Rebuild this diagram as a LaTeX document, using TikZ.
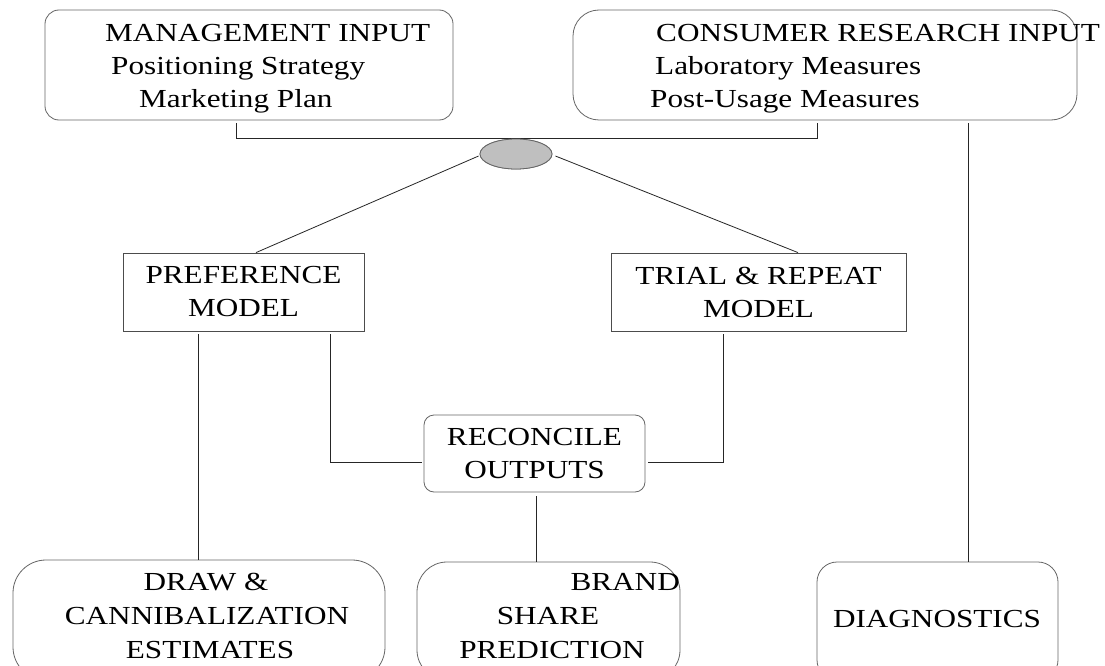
\documentclass[tikz,border=0pt]{standalone}
\usepackage{fontspec}
\setmainfont{Liberation Serif}[FakeStretch=1.2]
\usetikzlibrary{shapes.geometric,calc}
\tikzset{
  conn/.style={draw=black!85, line width=0.8pt},
  rbox/.style={draw=black!60, line width=0.8pt, rounded corners=#1, inner sep=0pt},
  sbox/.style={draw=black!70, line width=0.8pt, inner sep=0pt, align=center, font=\fontsize{26}{33}\selectfont},
  txt/.style={inner sep=0pt, font=\fontsize{26}{33}\selectfont},
}
\begin{document}
\begin{tikzpicture}[x=1pt,y=-1pt]
\useasboundingbox (0,0) rectangle (1105,666);
\clip (0,0) rectangle (1105,666);
\fill[white] (0,0) rectangle (1105,666);
% boxes
\node[rbox=14, minimum width=408, minimum height=110] (mgmt) at (249,65) {};
\node[rbox=26, minimum width=504, minimum height=110] (cons) at (825,65) {};
\node[draw=black!60, fill=black!25, line width=0.8pt, ellipse, inner sep=0pt, minimum width=72, minimum height=30] (ell) at (516,154) {};
\node[sbox, minimum width=241, minimum height=78] (pref) at (243.5,292) {PREFERENCE\\MODEL};
\node[sbox, minimum width=295, minimum height=78] (trial) at (758.5,292) {TRIAL \& REPEAT\\MODEL};
\node[rbox=10, minimum width=221, minimum height=77, align=center, font=\fontsize{26}{33}\selectfont] (reco) at (534.5,453.5) {RECONCILE\\OUTPUTS};
\node[rbox=33, minimum width=372, minimum height=120] (drawb) at (199,620) {};
\node[rbox=30, minimum width=263, minimum height=118] (brand) at (548.5,621) {};
\node[rbox=20, minimum width=241, minimum height=118] (diag) at (937.5,621) {};
% texts
\node[txt, anchor=base west] (m1) at (105,42) {MANAGEMENT INPUT};
\node[txt, anchor=base west] (m2) at (111,75) {Positioning Strategy};
\node[txt, anchor=base west] (m3) at (139,108) {Marketing Plan};
\node[txt, anchor=base west] (c1) at (656,42) {CONSUMER RESEARCH INPUT};
\node[txt, anchor=base west] (c2) at (655,75) {Laboratory Measures};
\node[txt, anchor=base west] (c3) at (650,108) {Post-Usage Measures};
\node[txt, anchor=base] (d1) at (206,590) {DRAW \&};
\node[txt, anchor=base] (d2) at (207,624) {CANNIBALIZATION};
\node[txt, anchor=base] (d3) at (210,658) {ESTIMATES};
\node[txt, anchor=base east] (b1) at (680,590) {BRAND};
\node[txt, anchor=base] (b2) at (548,624) {SHARE};
\node[txt, anchor=base] (b3) at (552,658) {PREDICTION};
\node[txt, anchor=base] (g1) at (937,627) {DIAGNOSTICS};
% connectors
\draw[conn] ($(mgmt.south)+(-13,3)$) |- (ell.north) -| ($(cons.south)+(-8,3)$);
\node[draw=black!60, fill=black!25, line width=0.8pt, ellipse, inner sep=0pt, minimum width=72, minimum height=30] at (ell) {};
\draw[conn] ($(ell.west)+(-1,2)$) -- ($(pref.north)+(12.5,0)$);
\draw[conn] ($(ell.east)+(3,2)$) -- ($(trial.north)+(39.5,0)$);
\draw[conn] ($(pref.south)+(-45.5,3)$) -- ($(drawb.north)+(-1,0)$);
\draw[conn] ($(pref.south)+(86.5,3)$) |- ($(reco.west)+(-2,9)$);
\draw[conn] ($(trial.south)+(-35.5,3)$) |- ($(reco.east)+(3,9)$);
\draw[conn] ($(reco.south)+(1.5,4)$) -- (brand.north -| 536,0);
\draw[conn] ($(cons.south)+(143,3)$) -- (diag.north -| 968,0);
\end{tikzpicture}
\end{document}
